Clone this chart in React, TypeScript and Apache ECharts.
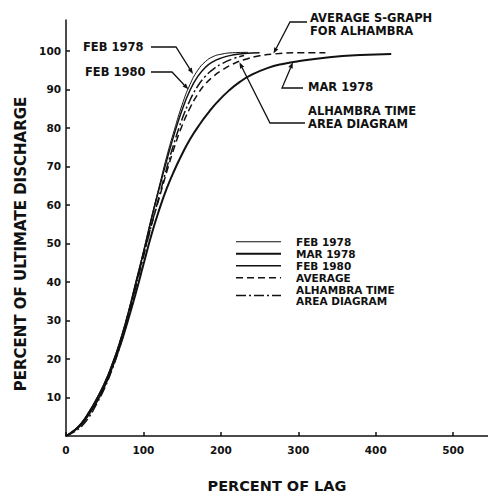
import React, { useEffect, useRef } from 'react';
import * as echarts from 'echarts';

const xTickValues = [0, 100, 200, 300, 400, 500];
const yTickValues = [10, 20, 30, 40, 50, 60, 70, 80, 90, 100];

const seriesNames = ['FEB 1978', 'MAR 1978', 'FEB 1980', 'AVERAGE', 'ALHAMBRA TIME\nAREA DIAGRAM'];

const feb1978Lag = [0, 10, 20, 30, 40, 50, 60, 70, 80, 90, 100, 110, 120, 130, 140, 150, 160, 170, 180, 190, 200, 215, 235];
const feb1978Pct = [0, 1.5, 3.5, 6.5, 10, 14, 19, 25, 32, 40, 48, 56.5, 64.5, 72.5, 79.5, 86, 91.2, 94.9, 97.2, 98.5, 99.1, 99.5, 99.6];

const mar1978Lag = [0, 10, 20, 30, 40, 50, 60, 70, 80, 90, 100, 110, 120, 130, 140, 150, 160, 173, 185, 195, 210, 225, 240, 260, 280, 300, 340, 380, 420];
const mar1978Pct = [0, 1.3, 3, 5.8, 9, 13, 18, 23.5, 30, 37, 44.5, 52, 58.5, 64.2, 69, 73.2, 77, 81, 84.2, 86.6, 89.6, 92, 93.8, 95.5, 96.6, 97.3, 98.3, 98.9, 99.2];

const feb1980Lag = [0, 10, 20, 30, 40, 50, 60, 70, 80, 90, 100, 110, 120, 130, 140, 150, 160, 170, 180, 190, 200, 215, 230, 250];
const feb1980Pct = [0, 1.4, 3.4, 6.3, 9.8, 13.8, 18.8, 24.5, 31.5, 39.5, 47.5, 56, 64, 71.5, 78.5, 84.7, 89.7, 93.3, 95.7, 97.2, 98.1, 98.9, 99.3, 99.5];

const averageLag = [0, 10, 20, 30, 40, 50, 60, 70, 80, 90, 100, 110, 120, 130, 140, 150, 160, 170, 180, 190, 200, 215, 230, 250, 270, 300, 335];
const averagePct = [0, 1.3, 3.2, 6, 9.5, 13.5, 18.5, 24.5, 31.5, 39, 47, 54.5, 61.5, 68.5, 75, 80.6, 85.1, 88.7, 91.4, 93.3, 94.8, 96.5, 97.7, 98.7, 99.2, 99.5, 99.5];

const timeAreaLag = [0, 10, 20, 30, 40, 50, 60, 70, 80, 90, 100, 110, 120, 130, 140, 150, 160, 170, 180, 190, 200, 215, 230];
const timeAreaPct = [0, 1, 2.5, 5, 8.5, 12.5, 17.5, 23.5, 30.5, 38.5, 46.5, 54.5, 62, 69.5, 76.3, 82.3, 87.1, 90.8, 93.4, 95.2, 96.5, 97.9, 98.8];

// annotation labels and the data points their leaders point to
const annotationTexts = ['FEB 1978', 'FEB 1980', 'AVERAGE S-GRAPH\nFOR ALHAMBRA', 'MAR 1978', 'ALHAMBRA TIME\nAREA DIAGRAM'];
const annotationTips = [[164, 94], [158, 90], [268, 99.3], [293, 97], [224, 97]];

const pairs = (xs: number[], ys: number[]) => xs.map((x, i) => [x, ys[i]]);

export default function App() {
  const ref = useRef<HTMLDivElement>(null);
  useEffect(() => {
    document.body.style.margin = '0';
    const chart = echarts.init(ref.current as HTMLDivElement, null, { renderer: 'svg' });
    const font = 'DejaVu Sans';
    const black = '#111';
    const widths = [1, 2, 1.5, 1.5, 1.5];
    const dashes: any[] = ['solid', 'solid', 'solid', [7, 4], [10, 3, 2, 3]];
    const datasets = [
      pairs(feb1978Lag, feb1978Pct),
      pairs(mar1978Lag, mar1978Pct),
      pairs(feb1980Lag, feb1980Pct),
      pairs(averageLag, averagePct),
      pairs(timeAreaLag, timeAreaPct),
    ];
    chart.setOption({
      animation: false,
      backgroundColor: '#fff',
      grid: { left: 66, right: 0, top: 20, bottom: 59 },
      legend: {
        orient: 'vertical',
        left: 235,
        top: 236,
        padding: 0,
        itemWidth: 45,
        itemHeight: 8,
        itemGap: 0.5,
        itemStyle: { opacity: 0 },
        data: seriesNames.map((name, i) => ({ name, lineStyle: { width: widths[i], type: dashes[i], color: black } })),
        textStyle: { fontFamily: font, fontWeight: 'bold', fontSize: 10.5, color: black, lineHeight: 11.5, padding: [0, 0, 0, 10] },
      },
      xAxis: {
        type: 'value',
        min: 0,
        max: 545,
        name: 'PERCENT OF LAG',
        nameLocation: 'middle',
        nameGap: 42,
        nameTextStyle: { fontFamily: font, fontWeight: 'bold', fontSize: 14.5, color: black },
        splitLine: { show: false },
        axisLine: { lineStyle: { color: black, width: 1.5 } },
        axisTick: { inside: true, length: 4, customValues: xTickValues, lineStyle: { color: black, width: 1.5 } },
        axisLabel: { customValues: xTickValues, margin: 8, fontFamily: font, fontWeight: 'bold', fontSize: 10.5, color: black },
      },
      yAxis: {
        type: 'value',
        min: 0,
        max: 108,
        name: 'PERCENT OF ULTIMATE DISCHARGE',
        nameLocation: 'middle',
        nameGap: 30,
        nameTextStyle: { fontFamily: font, fontWeight: 'bold', fontSize: 15, color: black, padding: [0, 32, 0, 0] },
        splitLine: { show: false },
        axisLine: { lineStyle: { color: black, width: 1.5 } },
        axisTick: { inside: true, length: 4, customValues: yTickValues, lineStyle: { color: black, width: 1.5 } },
        axisLabel: { customValues: yTickValues, margin: 5, fontFamily: font, fontWeight: 'bold', fontSize: 10.5, color: black },
      },
      series: seriesNames.map((name, i) => ({
        name,
        type: 'line',
        data: datasets[i],
        smooth: 0.5,
        symbol: 'none',
        lineStyle: { color: black, width: widths[i], type: dashes[i] },
        itemStyle: { color: black },
      })),
    });

    // annotation layout (text position, leader elbow)
    const layout = [
      { tx: 83, ty: 40, path: [[151, 47], [176, 47]] },
      { tx: 85, ty: 65, path: [[151, 72], [172, 72]] },
      { tx: 310, ty: 11, path: [[307, 22], [290, 22]] },
      { tx: 308, ty: 80, path: [[303, 88], [282, 88]] },
      { tx: 308, ty: 104, path: [[305, 123], [270, 123]] },
    ];
    const graphic: any[] = [];
    layout.forEach((a, i) => {
      const tip = chart.convertToPixel({ gridIndex: 0 }, annotationTips[i]) as number[];
      const last = a.path[a.path.length - 1];
      const dx = tip[0] - last[0];
      const dy = tip[1] - last[1];
      const len = Math.hypot(dx, dy) || 1;
      const ux = dx / len;
      const uy = dy / len;
      const bx = tip[0] - ux * 6;
      const by = tip[1] - uy * 6;
      graphic.push({
        type: 'text',
        x: a.tx,
        y: a.ty,
        style: { text: annotationTexts[i], fontFamily: font, fontWeight: 'bold', fontSize: 11.5, lineHeight: 13.5, fill: black },
      });
      graphic.push({
        type: 'polyline',
        shape: { points: [...a.path, [bx, by]] },
        style: { stroke: black, lineWidth: 1.3, fill: 'none' },
      });
      graphic.push({
        type: 'polygon',
        shape: { points: [tip, [bx - uy * 2.3, by + ux * 2.3], [bx + uy * 2.3, by - ux * 2.3]] },
        style: { fill: black },
      });
    });
    chart.setOption({ graphic });
    return () => chart.dispose();
  }, []);
  return <div ref={ref} style={{ width: 488, height: 498 }} />;
}
